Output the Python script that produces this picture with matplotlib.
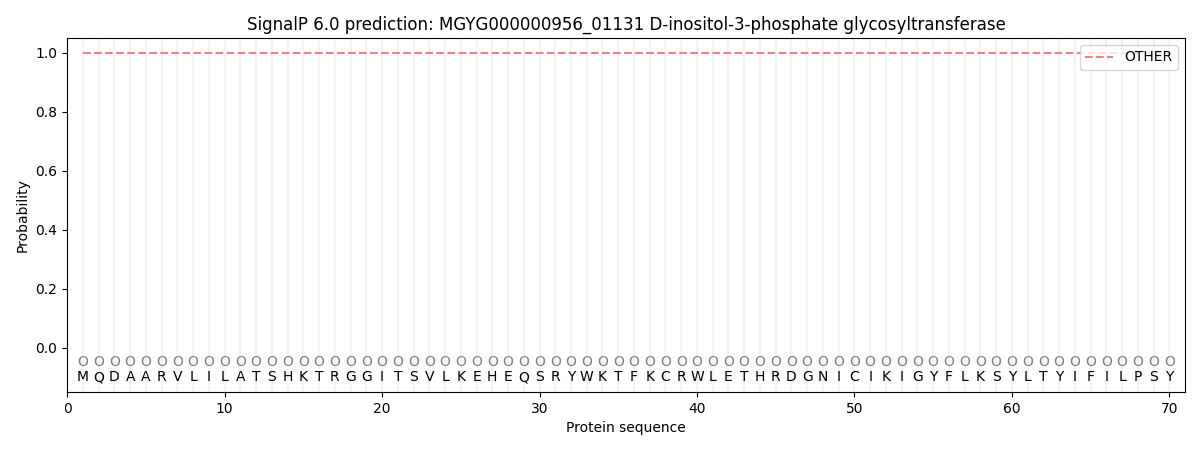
import matplotlib
matplotlib.use("Agg")
import matplotlib.pyplot as plt
import numpy as np

sequence = "MQDAARVLILATSHKTRGGITSVLKEHEQSRYWKTFKCRWLETHRDGNICIKIGYFLKSYLTYIFILPSY"
positions = list(range(1, len(sequence) + 1))
other_prob = [1.0] * len(sequence)
pred_labels = ["O"] * len(sequence)

fig, ax = plt.subplots(figsize=(12, 4.5), dpi=100)
for p in positions:
    ax.axvline(p, color="#f3f3f3", linewidth=1.5, zorder=0)
ax.plot(positions, other_prob, linestyle="--", color="#f08080", label="OTHER")
for p, aa, lab in zip(positions, sequence, pred_labels):
    ax.text(p, -0.05, lab, ha="center", va="center", color="gray", fontsize=10)
    ax.text(p, -0.1, aa, ha="center", va="center", color="black", fontsize=10)
ax.set_xlim(0, 71)
ax.set_ylim(-0.15, 1.05)
ax.set_xlabel("Protein sequence")
ax.set_ylabel("Probability")
ax.set_title("SignalP 6.0 prediction: MGYG000000956_01131 D-inositol-3-phosphate glycosyltransferase")
ax.legend(loc="upper right")
fig.subplots_adjust(left=0.056, right=0.9875, top=0.9156, bottom=0.129)
fig.savefig("out.png")
